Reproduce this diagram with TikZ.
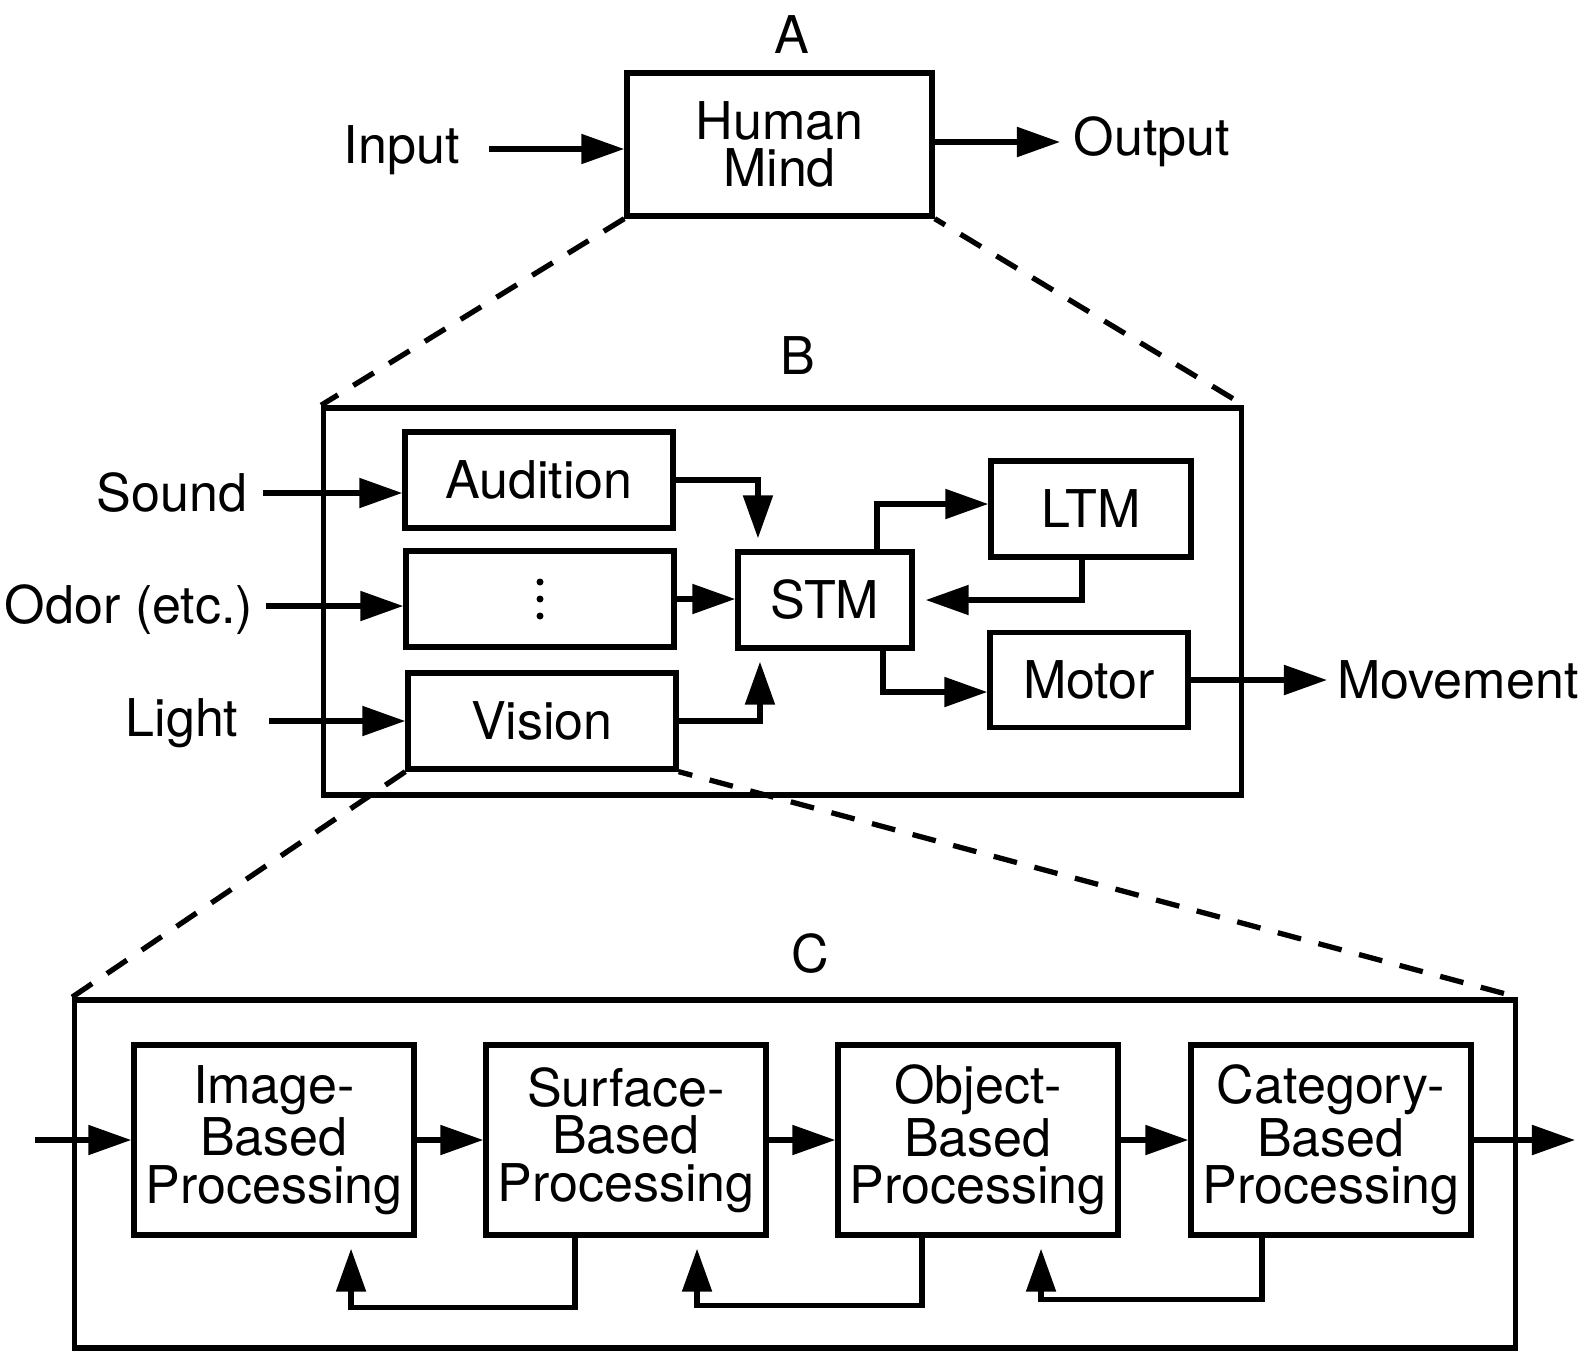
\documentclass[tikz,border=0pt]{standalone}
\usepackage{fontspec}
\setmainfont{TeX Gyre Heros}
\usetikzlibrary{arrows.meta}
\begin{document}
\begin{tikzpicture}[x=0.01cm,y=-0.01cm,
  every node/.style={font=\fontsize{14.8}{13.5}\selectfont},
  box/.style={draw, line width=1.5pt, inner sep=0pt, align=center},
  lbl/.style={inner sep=0pt},
  arr/.style={line width=1.5pt, -{Triangle[length=0.43cm,width=0.29cm]}},
  gap/.style={shorten >=0.11cm},
  dashline/.style={line width=1.5pt, dash pattern=on 0.24cm off 0.18cm},
  sbox/.style={box, minimum width=2.68cm, minimum height=0.96cm},
  pbox/.style={box, minimum width=2.80cm, minimum height=1.90cm}]
\useasboundingbox (0,0) rectangle (1588,1363);

% ---------- A ----------
\node[lbl] (A) at (792,35) {A};
\node[box, minimum width=3.05cm, minimum height=1.43cm] (mind) at (779.5,144.5) {Human\\Mind};
\node[lbl] (in) at (402,150) {Input};
\coordinate (ins) at (489,149);
\draw[arr] (ins) -- (ins -| mind.west);
\coordinate (oute) at (1060,142);
\node[lbl] (out) at (1152,142) {Output};
\draw[arr] (mind.east |- oute) -- (oute);

% ---------- B ----------
\node[lbl] (B) at (798,356) {B};
\node[draw, line width=1.5pt, minimum width=9.17cm, minimum height=3.87cm] (Bbox) at (782.5,601.5) {};
\draw[dashline] (mind.south west) -- (Bbox.north west);
\draw[dashline, dash phase=0.12cm] (mind.south east) -- (Bbox.north east);

\node[sbox] (aud) at (539,480) {Audition};
\node[sbox] (mid) at (540,599) {};
\foreach \dy in {-17,0,17} \fill ([yshift=\dy*0.01cm]mid.center) circle[radius=0.035cm];
\node[sbox] (vis) at (542,721) {Vision};
\node[box, minimum width=1.74cm, minimum height=0.96cm] (stm) at (825,600) {STM};
\node[box, minimum width=2.00cm, minimum height=0.96cm] (ltm) at (1091,509) {LTM};
\node[box, minimum width=1.98cm, minimum height=0.95cm] (motor) at (1089,680) {Motor};

\node[lbl] (sound) at (172,493) {Sound};
\node[lbl] (odor) at (129,610) {Odor (etc.)};
\node[lbl] (light) at (182,723) {Light};
\coordinate (ss) at (263,493);
\coordinate (os) at (266,606);
\coordinate (ls) at (269,721);
\draw[arr] (ss) -- (ss -| aud.west);
\draw[arr] (os) -- (os -| mid.west);
\draw[arr] (ls) -- (ls -| vis.west);

\draw[arr, gap] (aud.east) -| ([xshift=-0.67cm]stm.north);
\draw[arr] (mid.east) -- (mid.east -| stm.west);
\draw[arr, gap] (vis.east) -| ([xshift=-0.65cm]stm.south);
\draw[arr] ([xshift=0.52cm]stm.north) |- ([yshift=0.05cm]ltm.west);
\draw[arr, gap] ([xshift=-0.09cm]ltm.south) |- (stm.east);
\draw[arr] ([xshift=0.58cm]stm.south) |- ([yshift=-0.12cm]motor.west);

\coordinate (mve) at (1327,680);
\node[lbl] (mov) at (1458,680) {Movement};
\draw[arr] (motor.east) -- (mve);

% ---------- C ----------
\node[lbl] (C) at (810,954) {C};
\node[draw, line width=1.5pt, minimum width=14.40cm, minimum height=3.48cm] (Cbox) at (795,1174) {};
\draw[dashline] (vis.south west) -- (Cbox.north west);
\draw[dashline, dash phase=0.1cm] (vis.south east) -- (Cbox.north east);

\node[pbox] (img)  at (274,1140)  {Image-\\Based\\Processing};
\node[pbox] (surf) at (626,1140)  {Surface-\\Based\\Processing};
\node[pbox] (obj)  at (978,1140)  {Object-\\Based\\Processing};
\node[pbox] (cat)  at (1331,1140) {Category-\\Based\\Processing};

\coordinate (cin) at (35,1140);
\coordinate (cout) at (1575,1140);
\draw[arr] (cin) -- (img.west);
\draw[arr] (img.east) -- (surf.west);
\draw[arr] (surf.east) -- (obj.west);
\draw[arr] (obj.east) -- (cat.west);
\draw[arr] (cat.east) -- (cout);

\draw[arr, gap] ([xshift=-0.51cm]surf.south) -- ++(0,70) -| ([xshift=0.77cm]img.south);
\draw[arr, gap] ([xshift=-0.56cm]obj.south) -- ++(0,68) -| ([xshift=0.71cm]surf.south);
\draw[arr, gap] ([xshift=-0.69cm]cat.south) -- ++(0,62) -| ([xshift=0.63cm]obj.south);
\end{tikzpicture}
\end{document}
